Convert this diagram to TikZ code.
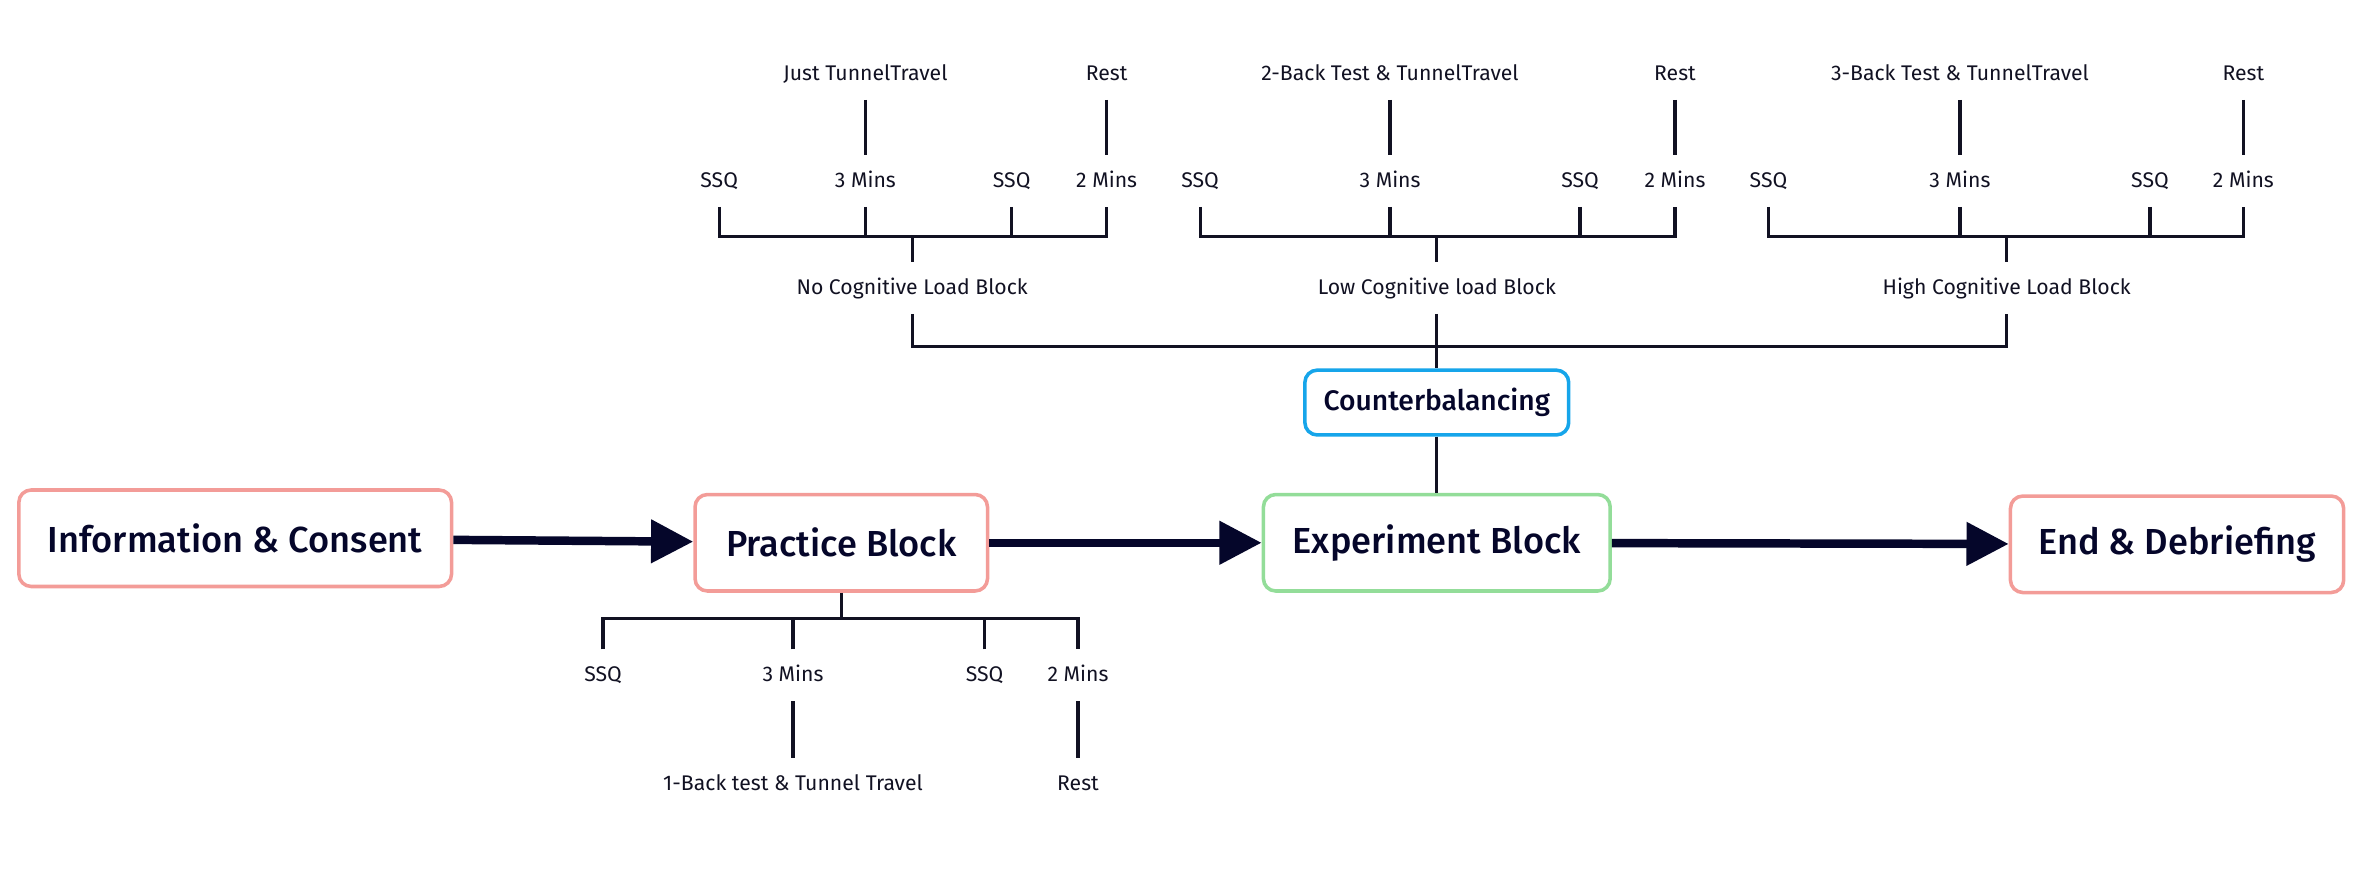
\documentclass[tikz,border=0pt]{standalone}
\usepackage{fontspec}
\setmainfont{Fira Sans}
\newfontfamily\boxfont{Fira Sans Medium}
\usetikzlibrary{arrows.meta, positioning}
\definecolor{navy}{HTML}{05062A}
\definecolor{rosa}{HTML}{F39C98}
\definecolor{mint}{HTML}{93DD99}
\definecolor{sky}{HTML}{16A5EA}
\definecolor{ink}{HTML}{111122}

\tikzset{
  stage/.style={draw=rosa, line width=2pt, rounded corners=7pt, fill=white, text=navy,
    font=\boxfont\fontsize{20.5}{22}\selectfont, minimum height=1.92cm, inner sep=0pt},
  lbl/.style={inner sep=0pt, minimum height=1.02cm, text height=0.7em, text depth=0pt,
    text=ink, font=\fontsize{12}{14}\selectfont},
  tree/.style={line width=1.8pt, ink},
  flow/.style={navy, line width=4.8pt, -{Triangle[length=8.4mm, width=8.3mm]}},
}

\begin{document}
\begin{tikzpicture}[x=0.3mm, y=-0.3mm]
\useasboundingbox (0,0) rectangle (1568,581);
% main stages
\node[stage, minimum width=8.61cm] (info) at (156,357) {Information \& Consent};
\node[stage, minimum width=5.82cm] (practice) at (558,360) {Practice Block};
\node[stage, draw=mint, minimum width=6.9cm] (exp) at (953,360) {Experiment Block};
\node[stage, minimum width=6.63cm] (debrief) at (1444,361) {End \& Debriefing};
\node[stage, draw=sky, minimum width=5.25cm, minimum height=1.29cm,
  font=\boxfont\fontsize{16}{18}\selectfont] (cb) at (953,267) {Counterbalancing};
\draw[flow] (info) -- (practice);
\draw[flow] (practice) -- (exp);
\draw[flow] (exp) -- (debrief);
% the three blocks
\foreach \n/\c/\p/\q/\r/\s/\task/\blk in {
  no/605/477/574/671/734/{Just TunnelTravel}/{No Cognitive Load Block},
  low/953/796/922/1048/1111/{2-Back Test \& TunnelTravel}/{Low Cognitive load Block},
  high/1331/1173/1300/1426/1488/{3-Back Test \& TunnelTravel}/{High Cognitive Load Block}}{
  \node[lbl] (\n-blk) at (\c,191) {\blk};
  \node[lbl] (\n-ssqa) at (\p,120) {SSQ};
  \node[lbl] (\n-mins) at (\q,120) {3 Mins};
  \node[lbl] (\n-ssqb) at (\r,120) {SSQ};
  \node[lbl] (\n-rest) at (\s,120) {2 Mins};
  \node[lbl] (\n-task) at (\q,49) {\task};
  \node[lbl] (\n-pause) at (\s,49) {Rest};
  \coordinate (\n-bar) at (\c,157);
  \draw[tree] (\n-ssqa.south) |- (\n-rest.south |- \n-bar) -- (\n-rest.south);
  \draw[tree] (\n-mins.south) -- (\n-mins.south |- \n-bar);
  \draw[tree] (\n-ssqb.south) -- (\n-ssqb.south |- \n-bar);
  \draw[tree] (\n-blk.north) -- (\n-blk.north |- \n-bar);
  \draw[tree] (\n-task) -- (\n-mins);
  \draw[tree] (\n-pause) -- (\n-rest);
}
\coordinate (midbar) at (953,229.6);
\draw[tree] (no-blk.south) |- (high-blk.south |- midbar) -- (high-blk.south);
\draw[tree] (low-blk) -- (cb);
\draw[tree] (cb) -- (exp);
% practice block
\node[lbl] (p-ssqa) at (400,448) {SSQ};
\node[lbl] (p-mins) at (526,448) {3 Mins};
\node[lbl] (p-ssqb) at (653,448) {SSQ};
\node[lbl] (p-rest) at (715,448) {2 Mins};
\node[lbl] (p-task) at (526,520) {1-Back test \& Tunnel Travel};
\node[lbl] (p-pause) at (715,520) {Rest};
\coordinate (p-bar) at (558,410);
\draw[tree] (p-ssqa.north) |- (p-rest.north |- p-bar) -- (p-rest.north);
\draw[tree] (p-mins.north) -- (p-mins.north |- p-bar);
\draw[tree] (p-ssqb.north) -- (p-ssqb.north |- p-bar);
\draw[tree] (practice) -- (practice |- p-bar);
\draw[tree] (p-mins) -- (p-task);
\draw[tree] (p-rest) -- (p-pause);
\end{tikzpicture}
\end{document}
